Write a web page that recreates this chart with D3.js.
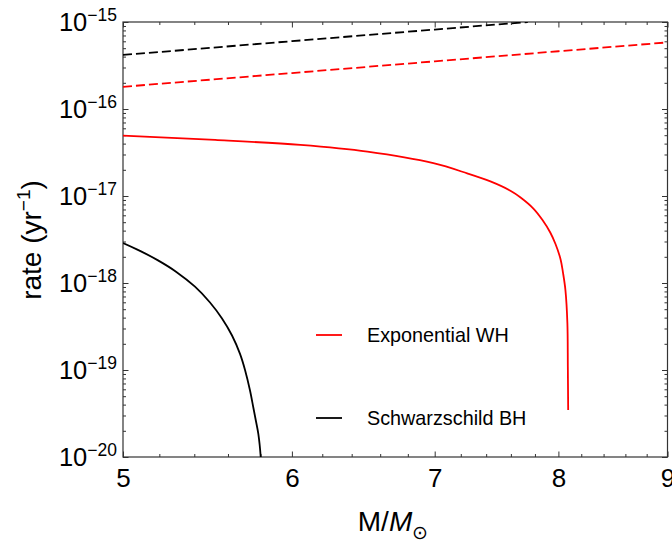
<!DOCTYPE html>
<html>
<head>
<meta charset="utf-8">
<script src="https://cdn.jsdelivr.net/npm/d3@7"></script>
<style>
  html, body { margin: 0; padding: 0; background: #fff; }
  svg { display: block; }
  text { font-family: "Liberation Sans", Arial, Helvetica, sans-serif; fill: #000; }
</style>
</head>
<body>
<svg id="chart" width="672" height="542"></svg>
<script>
// ---------- data ----------
const xMajorTicks = [5, 6, 7, 8, 9];
const xMinorTicks = [5.2, 5.4, 5.6, 5.8, 6.2, 6.4, 6.6, 6.8, 7.2, 7.4, 7.6, 7.8, 8.2, 8.4, 8.6, 8.8];
const yMajorExponents = [-15, -16, -17, -18, -19, -20];

// Exponential WH (solid red)
const whSolidM    = [5, 5.523, 6.055, 6.51, 6.99, 7.25, 7.434, 7.596, 7.68, 7.787, 7.864, 7.93, 7.975, 8.018, 8.0404, 8.061, 8.078, 8.082, 8.085];
const whSolidRate = [4.93e-17, 4.41e-17, 3.86e-17, 3.23e-17, 2.38e-17, 1.82e-17, 1.47e-17, 1.15e-17, 9.62e-18, 7.18e-18, 5.30e-18, 3.81e-18, 2.81e-18, 1.89e-18, 1.30e-18, 8.3e-19, 3.47e-19, 1.08e-19, 3.47e-20];

// Schwarzschild BH (solid black)
const bhSolidM    = [5, 5.0926, 5.1926, 5.2945, 5.404, 5.4924, 5.5641, 5.6245, 5.6732, 5.704, 5.7348, 5.7553, 5.7721, 5.7865, 5.8015, 5.8053];
const bhSolidRate = [2.88e-18, 2.34e-18, 1.82e-18, 1.35e-18, 9.07e-19, 5.97e-19, 3.91e-19, 2.49e-19, 1.53e-19, 1.0e-19, 5.81e-20, 3.71e-20, 2.56e-20, 1.84e-20, 1.0e-20, 7.1e-21];

// Dashed reference lines
const whDashM    = [5, 6, 7, 8, 9];
const whDashRate = [1.80e-16, 2.59e-16, 3.53e-16, 4.61e-16, 5.83e-16];
const bhDashM    = [5, 6, 7, 7.74];
const bhDashRate = [4.18e-16, 6.02e-16, 8.19e-16, 1.0e-15];

const legendLabels = ["Exponential WH", "Schwarzschild BH"];
const legendColors = ["#ff0000", "#000000"];

// ---------- layout ----------
const L = 123, R = 667.5, T = 22, B = 457;
const svg = d3.select("#chart");

const x = d3.scaleLog().domain([5, 9]).range([L, R]);
const y = d3.scaleLog().domain([1e-20, 1e-15]).range([B, T]);

const yMinorTicks = [];
for (let e = -20; e < -15; e++) for (let m = 2; m <= 9; m++) yMinorTicks.push(m * Math.pow(10, e));
const yMajorTicks = yMajorExponents.map(e => Math.pow(10, e));

// clip
svg.append("defs").append("clipPath").attr("id", "plotclip")
  .append("rect").attr("x", L).attr("y", T).attr("width", R - L).attr("height", B - T);

// ---------- ticks ----------
const tickColor = "#333";
function styleAxis(g) {
  g.select(".domain").remove();
  g.selectAll(".tick line").attr("stroke", tickColor).attr("stroke-width", 1);
}
// bottom
svg.append("g").attr("transform", `translate(0,${B})`)
  .call(d3.axisBottom(x).tickValues(xMinorTicks).tickSize(-3).tickFormat(""))
  .call(styleAxis);
const xAxisMajor = svg.append("g").attr("transform", `translate(0,${B})`)
  .call(d3.axisBottom(x).tickValues(xMajorTicks).tickSize(-5.5).tickPadding(11.5).tickFormat(d3.format("d")))
  .call(styleAxis);
xAxisMajor.selectAll("text").attr("font-size", 26).attr("font-family", "'Liberation Sans', Arial, sans-serif").attr("fill", "#000");
// top
svg.append("g").attr("transform", `translate(0,${T})`)
  .call(d3.axisTop(x).tickValues(xMinorTicks).tickSize(-3).tickFormat(""))
  .call(styleAxis);
svg.append("g").attr("transform", `translate(0,${T})`)
  .call(d3.axisTop(x).tickValues(xMajorTicks).tickSize(-5.5).tickFormat(""))
  .call(styleAxis);
// left
svg.append("g").attr("transform", `translate(${L},0)`)
  .call(d3.axisLeft(y).tickValues(yMinorTicks).tickSize(-3).tickFormat(""))
  .call(styleAxis);
svg.append("g").attr("transform", `translate(${L},0)`)
  .call(d3.axisLeft(y).tickValues(yMajorTicks).tickSize(-5.5).tickFormat(""))
  .call(styleAxis);
// right
svg.append("g").attr("transform", `translate(${R},0)`)
  .call(d3.axisRight(y).tickValues(yMinorTicks).tickSize(-3).tickFormat(""))
  .call(styleAxis);
svg.append("g").attr("transform", `translate(${R},0)`)
  .call(d3.axisRight(y).tickValues(yMajorTicks).tickSize(-5.5).tickFormat(""))
  .call(styleAxis);

// y tick labels 10^n
const yl = svg.append("g");
yMajorExponents.forEach(e => {
  const t = yl.append("text")
    .attr("x", L - 6).attr("y", y(Math.pow(10, e)) + 8.5)
    .attr("text-anchor", "end").attr("font-size", 25.5);
  t.append("tspan").text("10");
  t.append("tspan").attr("dy", -9.5).attr("font-size", 17.5).text("\u2212" + Math.abs(e));
});

// frame
svg.append("rect").attr("x", L).attr("y", T).attr("width", R - L).attr("height", B - T)
  .attr("fill", "none").attr("stroke", tickColor).attr("stroke-width", 1.2);

// ---------- curves ----------
const line = d3.line().x(d => x(d[0])).y(d => y(d[1]));
const zip = (a, b) => a.map((v, i) => [v, b[i]]);
const plot = svg.append("g").attr("clip-path", "url(#plotclip)");

plot.append("path").datum(zip(whDashM, whDashRate))
  .attr("d", line).attr("fill", "none").attr("stroke", "#ff0000")
  .attr("stroke-width", 1.8).attr("stroke-dasharray", "9,4");
plot.append("path").datum(zip(bhDashM, bhDashRate))
  .attr("d", line).attr("fill", "none").attr("stroke", "#000")
  .attr("stroke-width", 1.8).attr("stroke-dasharray", "9,4");

const smooth = d3.line().x(d => x(d[0])).y(d => y(d[1])).curve(d3.curveCatmullRom.alpha(0.5));
plot.append("path").datum(zip(whSolidM, whSolidRate))
  .attr("d", smooth).attr("fill", "none").attr("stroke", "#ff0000").attr("stroke-width", 1.8);
plot.append("path").datum(zip(bhSolidM, bhSolidRate))
  .attr("d", smooth).attr("fill", "none").attr("stroke", "#000").attr("stroke-width", 1.8);

// ---------- legend ----------
const legendY = [335, 418];
legendLabels.forEach((lab, i) => {
  svg.append("line").attr("x1", 316).attr("x2", 342)
    .attr("y1", legendY[i]).attr("y2", legendY[i])
    .attr("stroke", legendColors[i]).attr("stroke-width", 1.8);
  svg.append("text").attr("x", 367).attr("y", legendY[i] + 7)
    .attr("font-size", 19.8).text(lab);
});

// ---------- axis labels ----------
const xl = svg.append("text").attr("x", 393).attr("y", 531)
  .attr("text-anchor", "middle").attr("font-size", 28);
xl.append("tspan").text("M/");
xl.append("tspan").attr("font-style", "italic").text("M");
xl.append("tspan").attr("dy", 8).attr("font-size", 19).text("\u2299");

const ylab = svg.append("text")
  .attr("transform", "translate(41,240) rotate(-90)")
  .attr("text-anchor", "middle").attr("font-size", 28);
ylab.append("tspan").text("rate (yr");
ylab.append("tspan").attr("dy", -11).attr("font-size", 19).text("\u22121");
ylab.append("tspan").attr("dy", 11).text(")");
</script>
</body>
</html>
